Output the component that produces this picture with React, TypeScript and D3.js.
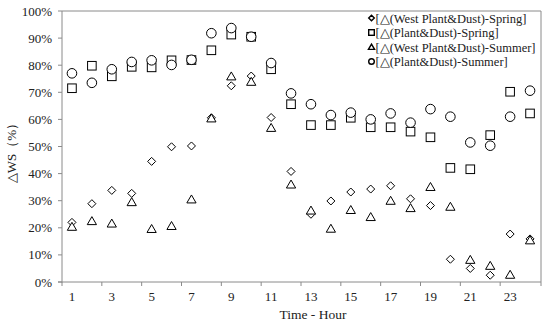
import React from "react";
import * as d3 from "d3";

const hours = d3.range(1, 25);
const tickLabels = [1, 3, 5, 7, 9, 11, 13, 15, 17, 19, 21, 23];
const yTicks = [0, 10, 20, 30, 40, 50, 60, 70, 80, 90, 100];

const westSpring = [22.0, 28.9, 33.8, 32.7, 44.5, 49.9, 50.2, 60.6, 72.4, 76.0, 60.7, 40.8, 25.0, 29.9, 33.2, 34.3, 35.5, 30.7, 28.2, 8.4, 5.0, 2.5, 17.7, 15.9];
const plantSpring = [71.5, 79.8, 75.9, 79.4, 79.2, 81.8, 81.9, 85.5, 91.3, 90.5, 78.5, 65.6, 57.9, 57.9, 60.6, 57.1, 57.1, 55.5, 53.4, 42.1, 41.6, 54.2, 70.2, 62.2];
const westSummer = [20.4, 22.5, 21.6, 29.5, 19.6, 20.7, 30.5, 60.4, 75.9, 73.9, 56.9, 36.0, 26.4, 19.7, 26.6, 24.0, 30.0, 27.3, 35.1, 27.8, 8.2, 6.0, 2.7, 15.4];
const plantSummer = [77.0, 73.5, 78.5, 81.2, 81.8, 80.1, 82.0, 91.8, 93.7, 90.5, 80.8, 69.6, 65.6, 61.6, 62.5, 60.0, 62.2, 58.8, 63.8, 61.0, 51.5, 50.3, 61.0, 70.6];

const seriesNames = [
  "[△(West Plant&Dust)-Spring]",
  "[△(Plant&Dust)-Spring]",
  "[△(West Plant&Dust)-Summer]",
  "[△(Plant&Dust)-Summer]",
];

const W = 550, H = 324;
const L = 62, R = 541, T = 11, B = 282;
const FONT = "'Liberation Serif', 'Times New Roman', serif";

function Marker({ type, x, y, s, sw }: { type: string; x: number; y: number; s: number; sw: number }) {
  const common = { fill: "white", stroke: "black", strokeWidth: sw };
  if (type === "diamond") {
    return <path d={`M${x},${y - s}L${x + s},${y}L${x},${y + s}L${x - s},${y}Z`} {...common} />;
  }
  if (type === "square") {
    return <rect x={x - s} y={y - s} width={2 * s} height={2 * s} {...common} />;
  }
  if (type === "triangle") {
    const h = s * 1.9;
    return <path d={`M${x},${y - h * 0.55}L${x + s * 1.1},${y + h * 0.45}L${x - s * 1.1},${y + h * 0.45}Z`} {...common} />;
  }
  return <circle cx={x} cy={y} r={s} {...common} />;
}

export default function App() {
  const x = d3.scaleBand<number>().domain(hours).range([L, R - 1]).padding(0);
  const y = d3.scaleLinear().domain([0, 100]).range([B, T]);
  const cx = (h: number) => (x(h) as number) + x.bandwidth() / 2;

  const series = [
    { data: westSpring, type: "diamond", s: 4 },
    { data: plantSpring, type: "square", s: 4.3 },
    { data: westSummer, type: "triangle", s: 4.2 },
    { data: plantSummer, type: "circle", s: 4.8 },
  ];

  const axisColor = "#8a8a8a";

  return (
    <svg width={W} height={H} style={{ position: "absolute", left: 0, top: 0, background: "white" }} fontFamily={FONT}>
      <rect x={0} y={0} width={W} height={H} fill="white" />
      {/* frame */}
      <line x1={L} x2={R} y1={T} y2={T} stroke={axisColor} />
      <line x1={R} x2={R} y1={T} y2={B} stroke={axisColor} />
      <line x1={L} x2={L} y1={T} y2={B + 0.5} stroke={axisColor} />
      <line x1={L - 4} x2={R} y1={B} y2={B} stroke={axisColor} />
      {/* y ticks */}
      {yTicks.map((t) => (
        <g key={t}>
          <line x1={L - 4} x2={L} y1={y(t)} y2={y(t)} stroke={axisColor} />
          <text x={52} y={y(t) + 4.5} textAnchor="end" fontSize={13} fill="#222">{`${t}%`}</text>
        </g>
      ))}
      {/* x ticks */}
      {hours.filter((h) => h % 2 === 1).map((h) => (
        <line key={h} x1={x(h) as number} x2={x(h) as number} y1={B} y2={B + 4} stroke={axisColor} />
      ))}
      <line x1={R} x2={R} y1={B} y2={B + 4} stroke={axisColor} />
      {tickLabels.map((h) => (
        <text key={h} x={cx(h)} y={300.5} textAnchor="middle" fontSize={13} fill="#222">{h}</text>
      ))}
      <text x={313} y={318.5} textAnchor="middle" fontSize={13.5} fill="#222">Time - Hour</text>
      <text transform={`translate(16,150) rotate(-90)`} textAnchor="middle" fontSize={13} fill="#222">△WS（%）</text>
      {/* points */}
      {series.map((sr, i) => (
        <g key={i}>
          {sr.data.map((v, j) => (
            <Marker key={j} type={sr.type} x={cx(hours[j])} y={y(v)} s={sr.s} sw={1} />
          ))}
        </g>
      ))}
      {/* legend */}
      {series.map((sr, i) => (
        <g key={i}>
          <Marker type={sr.type} x={371.5} y={18 + i * 14.5} s={2.8} sw={1.4} />
          <text x={375.5} y={22.5 + i * 14.5} fontSize={12.5} fill="#222">{seriesNames[i]}</text>
        </g>
      ))}
    </svg>
  );
}
